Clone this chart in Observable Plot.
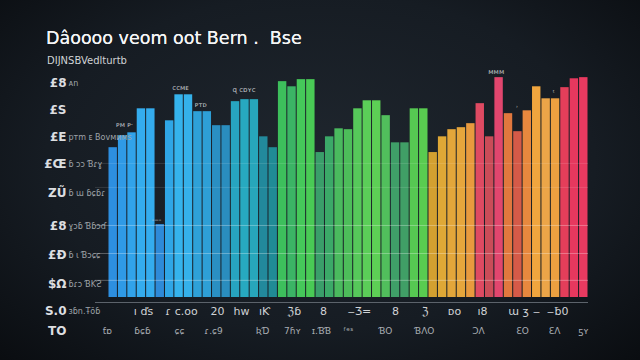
<!DOCTYPE html>
<html><head><meta charset="utf-8">
<script src="https://cdn.jsdelivr.net/npm/d3@7"></script>
<script src="https://cdn.jsdelivr.net/npm/@observablehq/plot@0.6"></script>
<style>
html,body{margin:0;padding:0;}
body{width:640px;height:360px;overflow:hidden;background:radial-gradient(ellipse 78% 85% at 50% 45%, #1f262e 0%, #161c23 55%, #07090c 100%);font-family:"DejaVu Sans",sans-serif;}
#head{position:relative;height:62px;}
#title{position:absolute;left:46px;top:27px;font-size:17.5px;line-height:22px;color:#f4f5f6;white-space:pre;font-weight:500;text-shadow:0 0 0.4px #fff;}
#sub{position:absolute;left:47px;top:55px;font-size:10px;line-height:12px;color:#cfd2d5;}
#chart svg{display:block;}
</style></head>
<body>
<div id="head"><div id="title">Dâoooo veom oot Bern .  Bse</div><div id="sub">DIJNSBVedlturtb</div></div>
<div id="chart"></div>
<script>
const barValues = [52.4,56.6,57.6,66.0,66.0,25.5,61.8,70.9,70.9,65.0,
  65.0,60.1,60.1,68.5,69.2,69.2,56.2,52.4,75.5,73.7,
  76.2,76.2,50.7,56.2,59.0,58.7,66.0,68.8,68.8,63.6,
  54.1,54.1,66.0,66.0,50.7,56.2,58.7,59.4,60.8,67.8,
  56.2,76.9,64.3,58.0,65.3,73.7,69.5,69.5,73.4,76.5,76.9];
const yTickValues = [75,65.5,56,46.5,36.5,25,14.7,4.5,-4.9,-11.9];
const yTickLabels = ["£8","£S","£E","£Œ","ZŨ","£8","£Ð","$Ω","S.0","TO"];
const yNoteLabels = ["ᴀn","","pᴛm ᴇ Bovᴍᴎᴍs","ɓ ɔɔ Ɓɾɣ","ɓ ɯ ɓɕɓɾ","ɣɔɓ Ɓɓɔɗ","ɓ ɩ Ɓɔɕɕ","ɓɾɔ ƁƘƧ","ɜɓn.Ŧõɓ",""];
const xRow1Pos = [3.72,7.76,11.58,14.13,16.58,19.76,22.85,26.67,30.49,33.68,36.76,39.74,43.57,46.22,48.14];
const xRow1Labels = ["ı ďs","ɾ ᴄ.ᴏᴏ","20","hw","ıƘ","ℨɓ","8","‒Ʒ=","8","ℨ","ᴅᴏ","ı8","ɯ ʒ","‒  ‒","ƀ0"];
const xRow2Pos = [-0.11,3.61,7.54,11.16,16.36,19.55,22.63,25.5,29.43,33.57,39.31,43.99,47.39,50.47];
const xRow2Labels = ["ƭɒ","ɓɕɓ","ɕɕ","ɾ.ɕ9","ƦƊ","7ɦʏ","ɪ.ƁƁ","ᶠᵉˢ","ƁO","ƁɅO","ƆɅ","ƐO","ƐɅ","ƽʏ"];
const noteX = [1.7,5.1,7.65,9.8,14.4,41.2,43.4,47.3];
const noteY = [59.5,26.2,72.4,66.5,71.7,78.0,65.1,70.5];
const noteText = ["ᴘᴍ ᴘ·","-‒-","ᴄᴄᴍᴇ","ᴘᴛᴅ","ɋ ᴄɒʏᴄ","ᴍᴍᴍ","ʾ","ᵗ"];
const gridStrong = [6.0,15.4,25.2];
const gridFaint = [38.5,46.9];

// styles
const topColors = ["#2d8fe0","#2f9ae6","#31a3ea","#34acee","#34acee","#2e8ad8","#2fa6e6","#35b3ec","#35b1ea","#2ea1d8","#2e9fd6","#2a8fc2","#2a8dbe","#27a4c0","#27a9c0","#27a6bb","#22899c","#208b96","#3dbf5c","#3bb465","#45c85a","#49ca55","#3a9e6a","#3ba968","#4aba5e","#4dbd5a","#56c85a","#5bcd58","#5dcf55","#51bf5c","#3f9f68","#409f66","#56c852","#59cc50","#d3a030","#dfa836","#e3a63a","#e6a63c","#e89a3e","#de4a62","#ca4c58","#e1466e","#e1783e","#d55a48","#e7883e","#f0a53e","#eca548","#eca040","#e43e5a","#e6385e","#e83a60"];
const bottomColors = [].concat(
  Array(5).fill("#2f6fd6"), Array(8).fill("#2d6ccf"), Array(3).fill("#2c70c8"), ["#2a7abc","#288aac"],
  Array(4).fill("#22a070"), Array(12).fill("#21a577"), Array(5).fill("#d98e36"),
  ["#c44260","#c4405a","#c8406a","#c8584a","#c84c52"], Array(4).fill("#cc6446"), Array(3).fill("#b8306e"));

const idx = barValues.map((_, i) => i);
const font = "DejaVu Sans, sans-serif";

const chart = Plot.plot({
  width: 640, height: 298,
  marginTop: 12, marginBottom: 63, marginLeft: 95, marginRight: 52,
  x: {domain: [-1.38, 51], axis: null},
  y: {domain: [0, 78], axis: null},
  style: {background: "transparent", fontFamily: font, color: "#d0d3d6", overflow: "visible"},
  marks: [
    Plot.rectY(idx, {x1: i => i, x2: i => i + 1, y1: 0, y2: i => barValues[i], insetLeft: 0.5, insetRight: 0.5, fill: i => topColors[i], ariaLabel: "bars"}),
    Plot.ruleY(gridStrong, {stroke: "#ffffff", strokeOpacity: 0.3}),
    Plot.ruleY(gridFaint, {stroke: "#ffffff", strokeOpacity: 0.12}),
    Plot.ruleY([-1.75], {stroke: "#5c636b", strokeWidth: 1.2}),
    Plot.text(yTickValues, {y: d => d, text: (d, i) => yTickLabels[i], frameAnchor: "left", dx: -29, textAnchor: "end", fill: "#dcdee0", fontSize: 12, fontWeight: "bold"}),
    Plot.text(yTickValues, {y: d => d, text: (d, i) => yNoteLabels[i], frameAnchor: "left", dx: -27, textAnchor: "start", fill: "#9ea3a8", fontSize: 8}),
    Plot.text(xRow1Pos, {x: d => d, y: -4.9, text: (d, i) => xRow1Labels[i], fill: "#d0d3d6", fontSize: 11}),
    Plot.text(xRow2Pos, {x: d => d, y: -11.9, text: (d, i) => xRow2Labels[i], fill: "#a8adb2", fontSize: 9}),
    Plot.text(noteX, {x: d => d, y: (d, i) => noteY[i], text: (d, i) => noteText[i], dy: -3, fill: "#c4c8cc", fontSize: 7})
  ]
});
document.getElementById("chart").appendChild(chart);

// vertical colour fade for each bar
const svg = chart.tagName.toLowerCase() === "svg" ? chart : chart.querySelector("svg");
const ys = chart.scale("y");
const yTop = ys.apply(78), yBot = ys.apply(0);
const ns = "http://www.w3.org/2000/svg";
const defs = document.createElementNS(ns, "defs");
svg.insertBefore(defs, svg.firstChild);
svg.querySelectorAll('g[aria-label="bars"] rect').forEach((r, i) => {
  const g = document.createElementNS(ns, "linearGradient");
  g.setAttribute("id", "bg" + i);
  g.setAttribute("gradientUnits", "userSpaceOnUse");
  g.setAttribute("x1", 0); g.setAttribute("x2", 0);
  g.setAttribute("y1", yTop); g.setAttribute("y2", yBot);
  const stops = [[0, topColors[i]], [0.45, topColors[i]], [0.7, d3.interpolateRgb(topColors[i], bottomColors[i])(0.75)], [1, bottomColors[i]]];
  for (const [o, c] of stops) {
    const s = document.createElementNS(ns, "stop");
    s.setAttribute("offset", o); s.setAttribute("stop-color", c);
    g.appendChild(s);
  }
  defs.appendChild(g);
  r.setAttribute("fill", `url(#bg${i})`);
});
</script>
</body></html>
